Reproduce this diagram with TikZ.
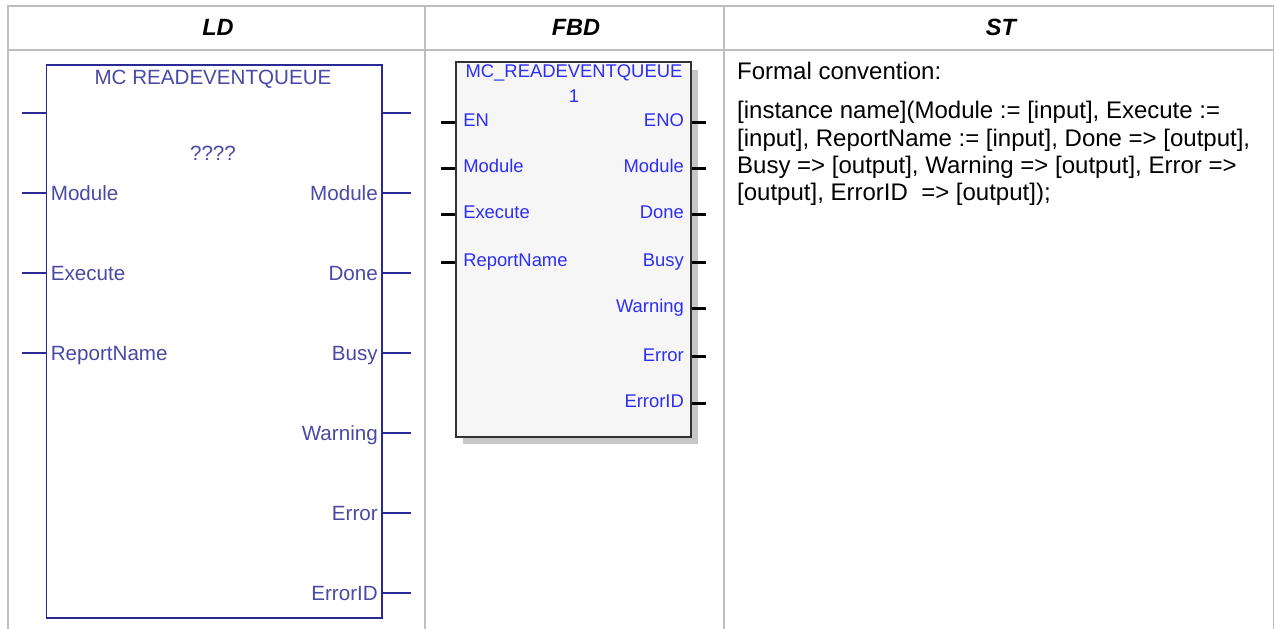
\documentclass[tikz,border=0pt]{standalone}
\usepackage{fontspec}
\setmainfont{Liberation Sans}
\definecolor{rule}{RGB}{190,190,190}
\definecolor{ldink}{RGB}{42,42,150}
\definecolor{fbdink}{RGB}{45,45,245}
\definecolor{fbdfill}{RGB}{246,246,246}
\definecolor{fbdshade}{RGB}{198,198,198}
\definecolor{fbdline}{RGB}{50,50,50}
\begin{document}
\begin{tikzpicture}[x=1pt, y=-1pt,
    hdr/.style={font=\fontsize{23.5}{23.5}\selectfont\bfseries\itshape, inner sep=0pt},
    ldbox/.style={draw=ldink, line width=1.8pt, inner sep=0pt},
    ldwire/.style={draw=ldink, line width=1.8pt},
    ldpin/.style={font=\fontsize{20.6}{20.6}\selectfont, text=ldink!85, inner sep=0pt},
    fbdbox/.style={draw=fbdline, line width=2pt, fill=fbdfill, inner sep=0pt},
    fbdwire/.style={draw=black, line width=3pt},
    fbdpin/.style={font=\fontsize{18.4}{18.4}\selectfont, text=fbdink, inner sep=0pt},
    stline/.style={font=\fontsize{24}{24}\selectfont, anchor=base west, inner sep=0pt},
    grid/.style={draw=rule, line width=1.5pt}]
  \useasboundingbox (0,0) rectangle (1275,629);
  \fill[white] (0,0) rectangle (1275,629);

  % ---------- table rules --------------------------------------------------
  \draw[grid] (8,629) -- (8,6) -- (1273.5,6) -- (1273.5,629);
  \draw[grid] (8,50) -- (1273.5,50);
  \foreach \x in {425,724} { \draw[grid] (\x,6) -- (\x,629); }
  \node[hdr] (hdrld) at (218,27) {LD};
  \node[hdr] (hdrfbd) at (576,27) {FBD};
  \node[hdr] (hdrst) at (1001,27) {ST};

  % ---------- LD block -----------------------------------------------------
  \node[ldbox, minimum width=335.5pt, minimum height=553pt] (ld) at (214.3,341.5) {};
  \node[ldpin] (ldname) at (213,79) {MC READEVENTQUEUE};
  \node[ldpin] (ldinst) at (213,153) {????};
  \foreach \n/\y in {0/113,1/193,2/273,3/353} {
    \coordinate (ldin\n) at (22,\y);
    \draw[ldwire] (ldin\n) -- (ldin\n -| ld.west); }
  \foreach \n/\y in {0/113,1/193,2/273,3/353,4/433,5/513,6/593} {
    \coordinate (ldout\n) at (411,\y);
    \draw[ldwire] (ldout\n) -- (ldout\n -| ld.east); }
  \foreach \n/\t in {1/Module,2/Execute,3/ReportName} {
    \node[ldpin, anchor=base west] (ldlab\n) at ([xshift=5pt,yshift=-7pt]ldin\n -| ld.west) {\t}; }
  \foreach \n/\t in {1/Module,2/Done,3/Busy,4/Warning,5/Error,6/ErrorID} {
    \node[ldpin, anchor=base east] (ldrab\n) at ([xshift=-5pt,yshift=-7pt]ldout\n -| ld.east) {\t}; }

  % ---------- FBD block ----------------------------------------------------
  \fill[fbdshade] (463,70) rectangle (697.5,444);
  \node[fbdbox, minimum width=234.5pt, minimum height=375pt] (fbd) at (573.3,249.5) {};
  \node[fbdpin] (fbdname) at (574,73) {MC\_READEVENTQUEUE};
  \node[fbdpin] (fbdinst) at (574,96) {1};
  \foreach \n/\y in {0/122,1/168,2/214,3/262} {
    \coordinate (fbdin\n) at (441,\y);
    \draw[fbdwire] (fbdin\n) -- (fbdin\n -| fbd.west); }
  \foreach \n/\y in {0/122,1/168,2/214,3/262,4/308,5/356.5,6/403} {
    \coordinate (fbdout\n) at (706,\y);
    \draw[fbdwire] (fbdout\n) -- (fbdout\n -| fbd.east); }
  \foreach \n/\t in {0/EN,1/Module,2/Execute,3/ReportName} {
    \node[fbdpin, anchor=base west] (fbdlab\n) at ([xshift=8pt,yshift=-4.5pt]fbdin\n -| fbd.west) {\t}; }
  \foreach \n/\t in {0/ENO,1/Module,2/Done,3/Busy,4/Warning,5/Error,6/ErrorID} {
    \node[fbdpin, anchor=base east] (fbdrab\n) at ([xshift=-7.5pt,yshift=-4.5pt]fbdout\n -| fbd.east) {\t}; }

  % ---------- ST text ------------------------------------------------------
  \node[stline] (st0) at (737,79) {Formal convention:};
  \node[stline] (st1) at (737,118) {[instance name](Module := [input], Execute :=};
  \node[stline] (st2) at (737,146) {[input], ReportName := [input], Done => [output],};
  \node[stline] (st3) at (737,173) {Busy => [output], Warning => [output], Error =>};
  \node[stline] (st4) at (737,200) {[output], ErrorID\ \ => [output]);};
\end{tikzpicture}
\end{document}
